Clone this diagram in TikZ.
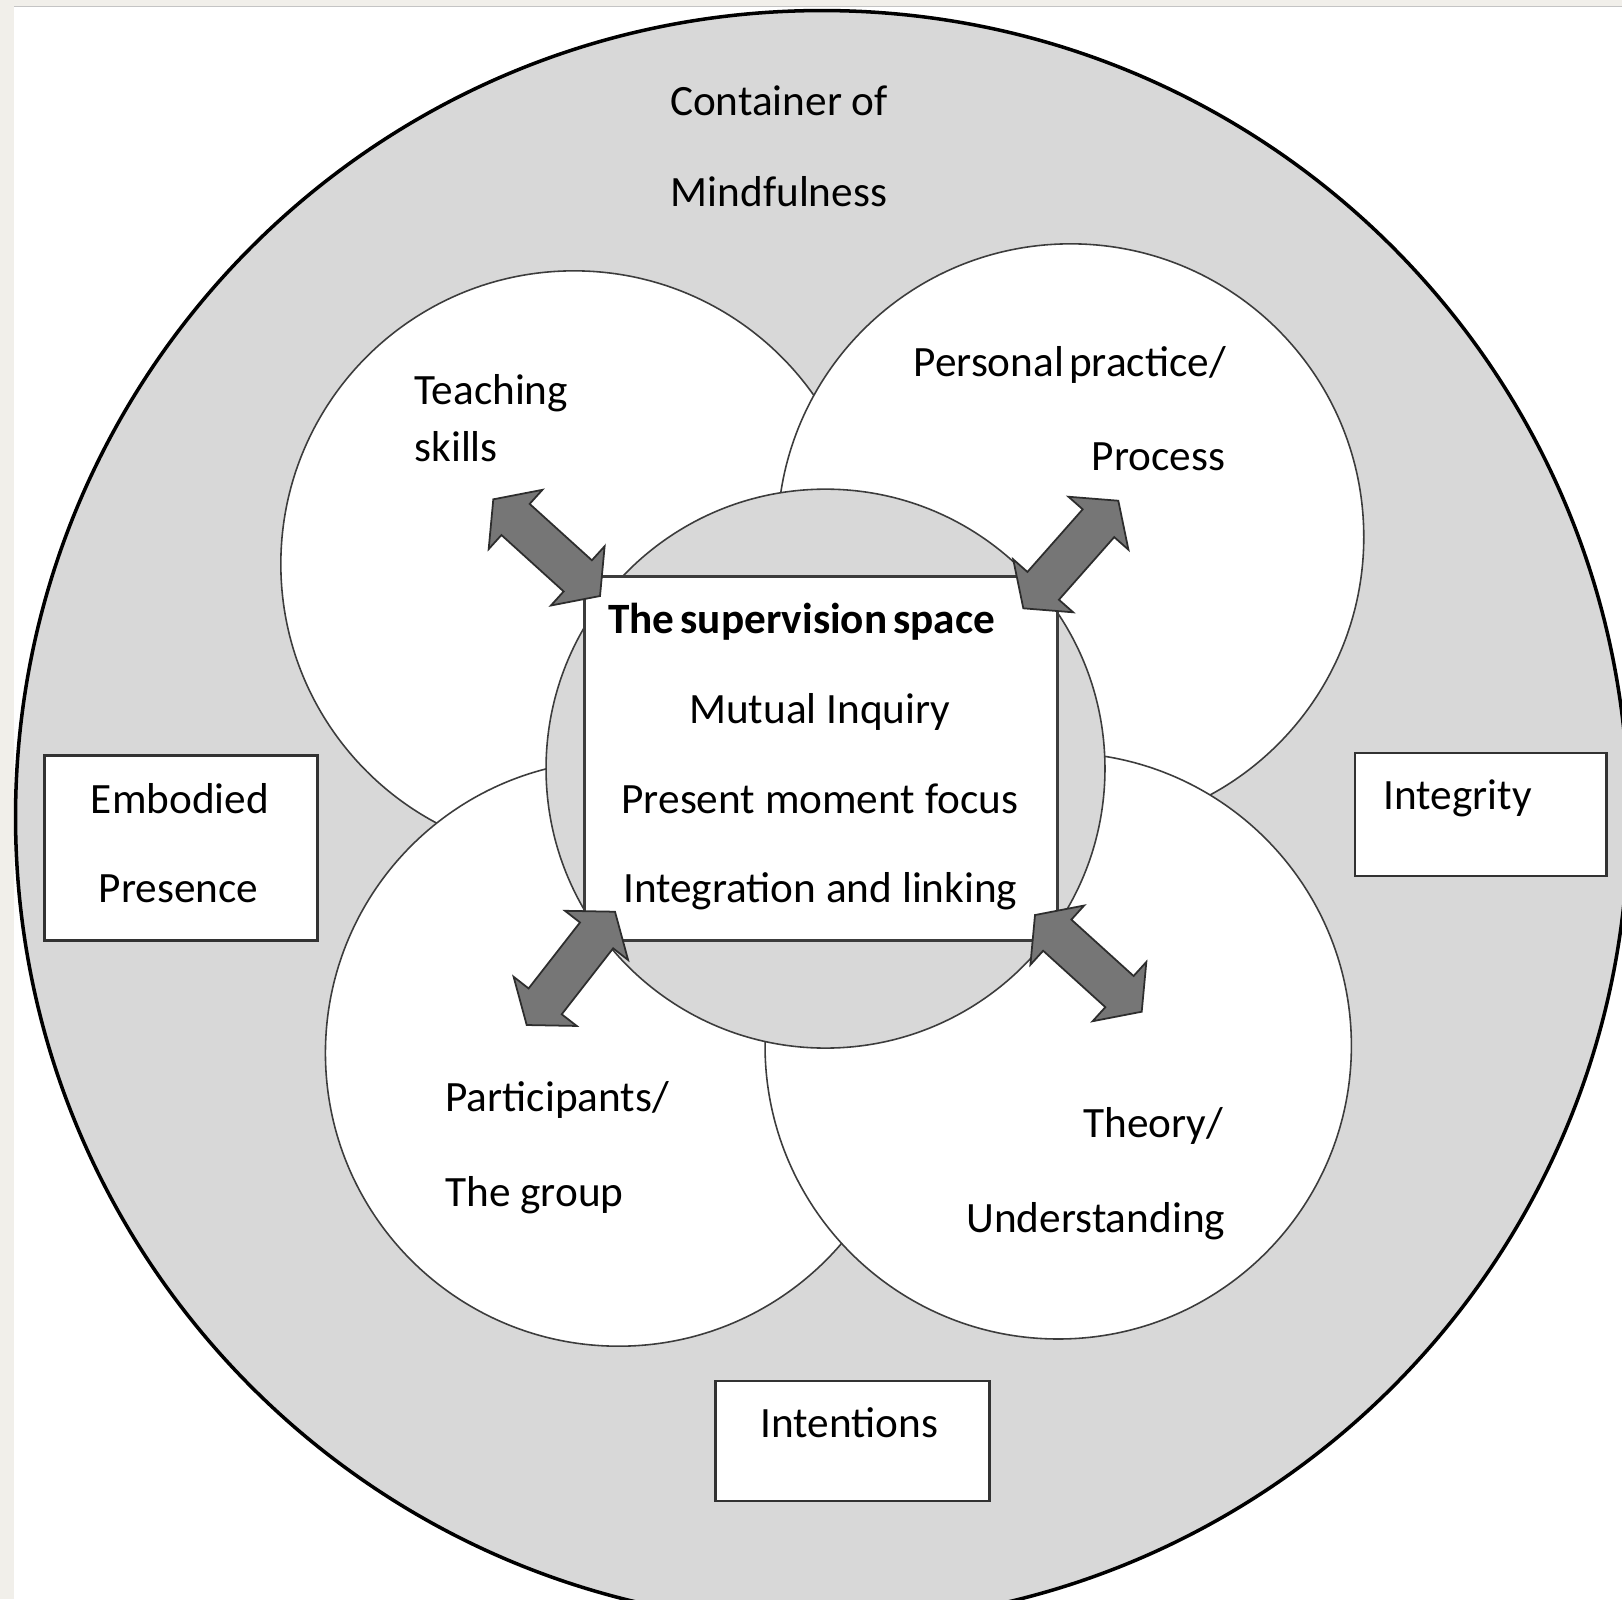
\documentclass[tikz,border=0pt]{standalone}
\usepackage{fontspec}
\setmainfont{Carlito}
\usetikzlibrary{calc}
\definecolor{bggray}{RGB}{216,216,216}
\definecolor{beige}{RGB}{241,239,234}
\definecolor{topline}{RGB}{196,196,196}
\definecolor{edgegray}{RGB}{60,60,60}
\definecolor{arrowgray}{RGB}{118,118,118}
\definecolor{arrowedge}{RGB}{45,45,45}
\definecolor{boxedge}{RGB}{50,50,50}
\newcommand{\dblblockarrow}[2]{%
  \coordinate (h1) at ($(#1)!0.3cm!(#2)$);
  \coordinate (h2) at ($(#2)!0.3cm!(#1)$);
  \draw[blockarrow] (#1) -- ($(h1)!0.4cm!90:(#2)$) -- ($(h1)!0.21cm!90:(#2)$)
    -- ($(h2)!0.21cm!-90:(#1)$) -- ($(h2)!0.4cm!-90:(#1)$) -- (#2)
    -- ($(h2)!0.4cm!90:(#1)$) -- ($(h2)!0.21cm!90:(#1)$)
    -- ($(h1)!0.21cm!-90:(#2)$) -- ($(h1)!0.4cm!-90:(#2)$) -- cycle;}
\begin{document}
\begin{tikzpicture}[x=0.01cm,y=-0.01cm,
  lbl/.style={font=\fontsize{12.3}{14}\selectfont, inner sep=0pt, text=black},
  ring/.style={circle, draw=edgegray, line width=0.45pt, fill=white, inner sep=0pt, outer sep=0pt, minimum size=5.86cm},
  textbox/.style={draw=boxedge, line width=0.8pt, fill=white, inner sep=0pt, outer sep=0pt},
  blockarrow/.style={fill=arrowgray, draw=arrowedge, line width=0.5pt, line join=miter}]
\useasboundingbox (0,0) rectangle (1622,1599);
\clip (0,0) rectangle (1622,1599);
\fill[white] (0,0) rectangle (1622,1599);
% screenshot frame
\fill[beige] (0,0) rectangle (1622,6);
\draw[topline, line width=0.5pt] (0,6.5) -- (1622,6.5);
\fill[beige] (0,0) rectangle (14,1599);
% outer container
\node[circle, draw=black, line width=1pt, fill=bggray, inner sep=0pt, minimum size=16.12cm] (outer) at (822,817) {};
% four topic circles
\node[ring] (tl) at (574,564) {};
\node[ring] (tr) at (1070.6,537) {};
\node[ring] (bl) at (618.6,1053) {};
\node[ring] (br) at (1058.2,1045.8) {};
% central circle and square
\node[circle, draw=edgegray, line width=0.45pt, fill=bggray, inner sep=0pt, minimum size=5.586cm] (centre) at (825.5,768.6) {};
\node[draw=edgegray, line width=0.75pt, fill=white, inner sep=0pt, minimum width=4.728cm, minimum height=3.642cm] (space) at (820.8,758.4) {};
% arrows
\coordinate (a1) at (493.3,499.3); \coordinate (a2) at (600,596);
\coordinate (b1) at (1023.3,608.3); \coordinate (b2) at (1118.3,500.7);
\coordinate (c1) at (615,911.7); \coordinate (c2) at (526.7,1025);
\coordinate (d1) at (1035,915); \coordinate (d2) at (1141.7,1011.7);
\dblblockarrow{a1}{a2}
\dblblockarrow{b1}{b2}
\dblblockarrow{c1}{c2}
\dblblockarrow{d1}{d2}
% side boxes
\node[textbox, minimum width=2.732cm, minimum height=1.85cm] (embodied) at (181,848) {};
\node[textbox, minimum width=2.515cm, minimum height=1.23cm] (integrity) at (1480.75,814.5) {};
\node[textbox, minimum width=2.741cm, minimum height=1.20cm] (intentions) at (852.3,1441) {};
% labels
\node[lbl, anchor=mid] (t1) at (779,106.8) {Container of};
\node[lbl, anchor=mid] (t2) at (779,197.9) {Mindfulness};
\node[lbl, anchor=mid west] (t3) at (413.8,396.5) {Teaching};
\node[lbl, anchor=mid west] (t4) at (413.8,453.4) {skills};
\node[lbl, anchor=mid east] (t5) at (1226.5,368.5) {Personal\kern0.12em practice/};
\node[lbl, anchor=mid east] (t6) at (1225.8,461.6) {Process};
\node[lbl, anchor=mid, font=\fontsize{12.3}{14}\selectfont\bfseries] (t7) at (801.7,625.1) {The\kern0.14em supervision\kern0.14em space};
\node[lbl, anchor=mid] (t8) at (819.8,715.1) {Mutual Inquiry};
\node[lbl, anchor=mid] (t9) at (819.8,805.1) {Present moment focus};
\node[lbl, anchor=mid] (t10) at (820.3,894) {Integration and linking};
\node[lbl, anchor=mid] (t11) at (180,805.1) {Embodied};
\node[lbl, anchor=mid] (t12) at (178.4,894) {Presence};
\node[lbl, anchor=mid west] (t13) at (1383,800.9) {Integrity};
\node[lbl, anchor=mid] (t14) at (849.2,1428.8) {Intentions};
\node[lbl, anchor=mid west] (t15) at (444.8,1103) {Participants/};
\node[lbl, anchor=mid west] (t16) at (444.8,1198.1) {The group};
\node[lbl, anchor=mid east] (t17) at (1223.7,1128.8) {Theory/};
\node[lbl, anchor=mid east] (t18) at (1225.8,1224) {Understanding};
\end{tikzpicture}
\end{document}
